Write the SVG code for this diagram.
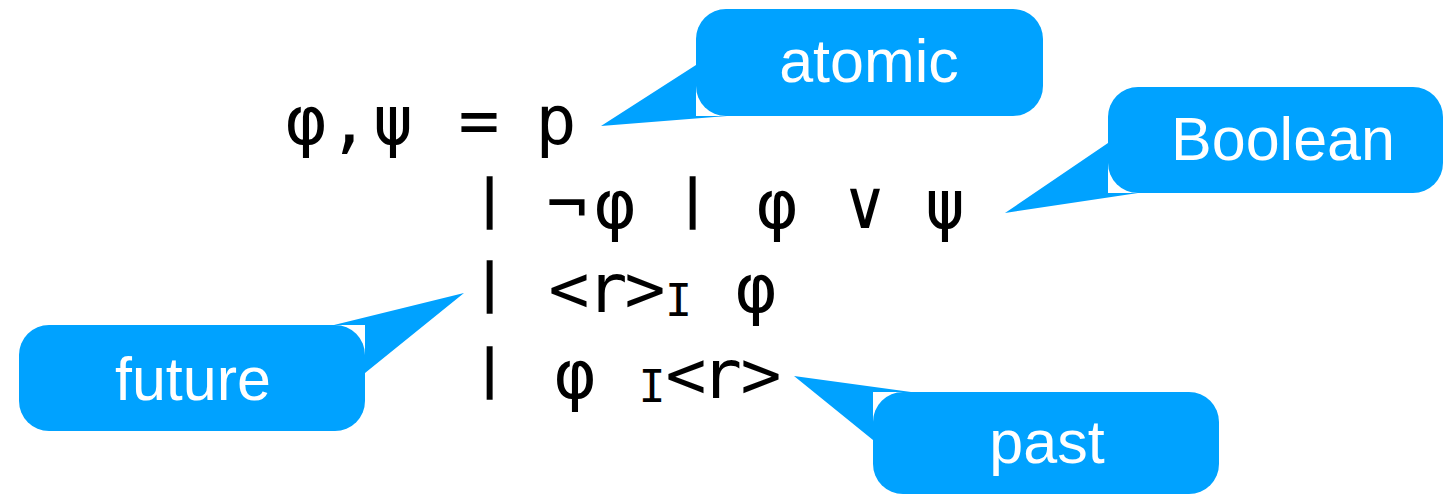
<svg xmlns="http://www.w3.org/2000/svg" width="1444" height="496" viewBox="0 0 1444 496">
<style>
.bub{fill:#00A2FF}
.lbl{font-family:"Liberation Sans",Arial,sans-serif;font-size:61px;fill:#fff;text-anchor:middle}
.f{font-family:"DejaVu Sans Mono",monospace;font-size:68px;fill:#000}
.sub{font-size:45px}
.bar{font-size:52px;stroke:#000;stroke-width:1.6px}
</style>
<rect width="1444" height="496" fill="#fff"/>
<g id="formula">
<text class="f" x="285.5 328.5 372.5 413 458.5 499 535.5" y="144">φ,ψ = p</text>
<text class="f" y="228"><tspan class="bar" x="474" y="215.7">|</tspan><tspan x="510 546.5 594.5 635" y="228"> ¬φ </tspan><tspan class="bar" x="677" y="215.7">|</tspan><tspan x="715 756.5 800 844.5 885 924.5" y="228"> φ ∨ ψ</tspan></text>
<text class="f" y="312"><tspan class="bar" x="474" y="299.7">|</tspan><tspan x="510 548.5 586.5 624.5" y="312"> &lt;r&gt;</tspan><tspan class="sub" x="665" y="316">I</tspan><tspan x="696 735.5" y="312"> φ</tspan></text>
<text class="f" y="398"><tspan class="bar" x="474" y="385.7">|</tspan><tspan x="510 554.5 600" y="398"> φ </tspan><tspan class="sub" x="638.5" y="402">I</tspan><tspan x="665.5 701 740.5" y="398">&lt;r&gt;</tspan></text>
</g>
<g id="connectors">
<polygon class="bub" points="696,65 601,126 727,116 696,116"/>
<polygon class="bub" points="1108,143 1005,213 1138,193 1108,193"/>
<polygon class="bub" points="365,373 464,293 334,325 365,325"/>
<polygon class="bub" points="873,440 794,376 911,392 873,392"/>
</g>
<g id="atomic">
<rect class="bub" x="696" y="9" width="347" height="107" rx="30"/>
<text class="lbl" x="869" y="82">atomic</text>
</g>
<g id="boolean">
<rect class="bub" x="1108" y="87" width="335" height="106" rx="30"/>
<text class="lbl" x="1283" y="160">Boolean</text>
</g>
<g id="future">
<rect class="bub" x="19" y="325" width="346" height="106" rx="30"/>
<text class="lbl" x="193" y="400">future</text>
</g>
<g id="past">
<rect class="bub" x="873" y="392" width="346" height="102" rx="30"/>
<text class="lbl" x="1047" y="463">past</text>
</g>
</svg>
